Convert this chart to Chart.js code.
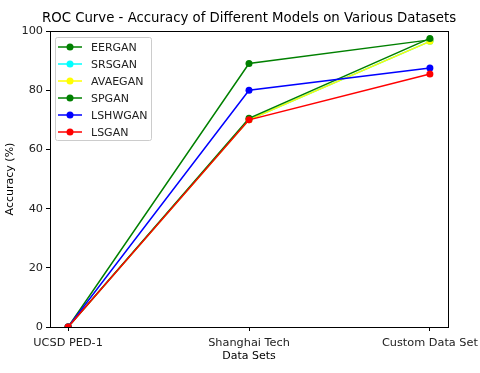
<!DOCTYPE html>
<html>
<head>
<meta charset="utf-8">
<script src="https://cdn.jsdelivr.net/npm/chart.js@4.4.0/dist/chart.umd.min.js"></script>
<style>
  body { margin: 0; background: #fff; }
  #wrap { width: 480px; height: 373px; position: relative; }
</style>
</head>
<body>
<div id="wrap"><canvas id="rocChart"></canvas></div>
<script>
// categories on the x axis
const datasetNames = ['UCSD PED-1', 'Shanghai Tech', 'Custom Data Set'];
const yTicks = [0, 20, 40, 60, 80, 100];

// accuracy per model
const eergan = [0, 89, 97];
const srsgan = [0, 70, 96.5];
const avaegan = [0, 70, 96.5];
const spgan = [0, 70.5, 97.5];
const lshwgan = [0, 80, 87.5];
const lsgan = [0, 70, 85.5];

const models = [
    { label: 'EERGAN', values: eergan, color: 'green' },
    { label: 'SRSGAN', values: srsgan, color: 'cyan' },
    { label: 'AVAEGAN', values: avaegan, color: 'yellow' },
    { label: 'SPGAN', values: spgan, color: 'green' },
    { label: 'LSHWGAN', values: lshwgan, color: 'blue' },
    { label: 'LSGAN', values: lsgan, color: 'red' }
];

const font = 'DejaVu Sans';

// legend box drawn inside the plot, like matplotlib does
const boxLegend = {
    id: 'boxLegend',
    afterDatasetsDraw(chart) {
        const ctx = chart.ctx;
        const area = chart.chartArea;
        const x0 = area.left + 5, y0 = area.top + 6;
        ctx.save();
        ctx.fillStyle = 'rgba(255,255,255,0.8)';
        ctx.strokeStyle = '#ccc';
        ctx.lineWidth = 1;
        ctx.beginPath();
        ctx.roundRect(x0 + 0.5, y0 + 0.5, 96, 103, 2);
        ctx.fill();
        ctx.stroke();
        ctx.font = '11px ' + font;
        ctx.textBaseline = 'middle';
        chart.data.datasets.forEach((ds, i) => {
            const y = y0 + 10 + i * 17;
            ctx.strokeStyle = ds.borderColor;
            ctx.lineWidth = 1.5;
            ctx.beginPath();
            ctx.moveTo(x0 + 3, y);
            ctx.lineTo(x0 + 27, y);
            ctx.stroke();
            ctx.fillStyle = ds.borderColor;
            ctx.beginPath();
            ctx.arc(x0 + 15, y, 3.5, 0, Math.PI * 2);
            ctx.fill();
            ctx.fillStyle = '#222';
            ctx.fillText(ds.label, x0 + 36, y + 1);
        });
        ctx.restore();
    }
};

// frame and title
const frame = {
    id: 'frame',
    afterDraw(chart) {
        const ctx = chart.ctx;
        const a = chart.chartArea;
        ctx.save();
        ctx.strokeStyle = '#000';
        ctx.lineWidth = 1;
        ctx.strokeRect(Math.round(a.left) + 0.5, Math.round(a.top) + 0.5,
            Math.round(a.right - a.left), Math.round(a.bottom - a.top));
        ctx.fillStyle = '#000';
        ctx.font = '13.3px ' + font;
        ctx.textAlign = 'center';
        ctx.textBaseline = 'middle';
        ctx.fillText('ROC Curve - Accuracy of Different Models on Various Datasets', (a.left + a.right) / 2, 19);
        ctx.restore();
    }
};

new Chart(document.getElementById('rocChart'), {
    type: 'line',
    data: {
        // later models are drawn on top, as in the original
        datasets: models.map((m, i) => ({
            label: m.label,
            data: m.values.map((v, j) => ({ x: j, y: v })),
            borderColor: m.color,
            backgroundColor: m.color,
            borderWidth: 1.5,
            pointRadius: 3.5,
            pointHoverRadius: 3.5,
            pointBorderWidth: 0,
            fill: false,
            tension: 0,
            order: models.length - i
        }))
    },
    options: {
        responsive: true,
        maintainAspectRatio: false,
        animation: false,
        layout: { padding: { top: 31, right: 32, left: 0, bottom: 0 } },
        plugins: {
            legend: { display: false },
            tooltip: { enabled: false }
        },
        scales: {
            x: {
                type: 'linear',
                min: -0.1,
                max: 2.1,
                afterBuildTicks: axis => { axis.ticks = datasetNames.map((n, i) => ({ value: i })); },
                afterFit: axis => {
                    axis.height = 46;
                    axis.paddingLeft = 0;
                    axis.paddingRight = 0;
                },
                ticks: {
                    callback: v => datasetNames[v],
                    color: '#222',
                    font: { family: font, size: 11.3 },
                    maxRotation: 0,
                    padding: 5
                },
                grid: { drawOnChartArea: false, drawTicks: true, tickLength: 4, color: '#000' },
                border: { color: '#000' },
                title: {
                    display: true,
                    text: 'Data Sets',
                    color: '#000',
                    font: { family: font, size: 11 },
                    padding: { top: 0, bottom: 10 }
                }
            },
            y: {
                min: 0,
                max: 100,
                afterBuildTicks: axis => { axis.ticks = yTicks.map(v => ({ value: v })); },
                afterFit: axis => { axis.width = 50; },
                ticks: {
                    color: '#222',
                    font: { family: font, size: 11.3 },
                    padding: 3
                },
                grid: { drawOnChartArea: false, drawTicks: true, tickLength: 4, color: '#000' },
                border: { color: '#000' },
                title: {
                    display: true,
                    text: 'Accuracy (%)',
                    color: '#000',
                    font: { family: font, size: 11 },
                    padding: { bottom: 4 }
                }
            }
        }
    },
    plugins: [boxLegend, frame]
});
</script>
</body>
</html>
